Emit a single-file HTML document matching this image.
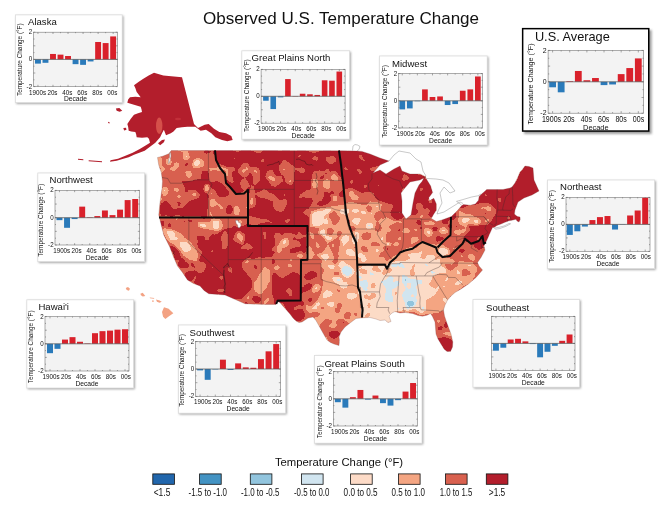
<!DOCTYPE html>
<html lang="en"><head><meta charset="utf-8"><title>Observed U.S. Temperature Change</title>
<style>html,body{margin:0;padding:0;background:#fff}svg{display:block}text{font-family:"Liberation Sans",Arial,sans-serif;fill:#111}</style></head><body>
<svg width="660" height="510" viewBox="0 0 660 510">
<defs>
<clipPath id="us"><path d="M171.25 150.5 L168.75 153.75 L162.5 156.25 L157.5 157.5 L158.75 165 L161.25 172.5 L162.5 181.25 L162 188.75 L160 202.5 L158.75 215 L159.5 218 L161.25 225 L163.75 235 L170 247.5 L173.75 257.5 L177.5 266 L182.5 272.5 L187.5 280 L193.5 283.5 L200 286 L204 290.5 L208.75 293.75 L225 295 L245 303.75 L265 304.5 L276 304.5 L276 301 L280 302.5 L282 305 L286 309.5 L290 314 L293 318 L296 321 L299 322.5 L302 322 L305 320 L308 318 L313 317 L316 320.5 L318 324 L320.5 328.5 L323 333 L325 336.5 L327 340 L330.5 342.5 L334 344 L339 345.6 L339.4 340 L339 337 L341 332 L345 327 L350 323 L356 318.5 L362 317.8 L370 317.5 L376 319 L380 320.5 L385 320 L388 322.5 L391 321.5 L389 316 L392 313 L395 311.5 L400 313 L405 312.5 L412.5 313.5 L418 315.5 L422.5 316.2 L427 315.2 L430.5 313.5 L432.5 316.5 L435 322 L435.5 328 L436 334 L438 339 L441 344 L444 349 L447 351.5 L450.5 351.5 L452.5 347 L452.8 342 L451 334 L448.75 328 L446.5 322 L444.5 316 L443.5 310 L445 305 L447.5 300 L451 296 L455 292.5 L461 289 L468.75 283.75 L476 277.5 L482.5 270 L479 266 L477.5 262.5 L481 257.5 L485 250 L484 246 L487.5 238.75 L490 233 L492.5 227.5 L494 227.4 L497 225.5 L501 224 L505 222.3 L509 220.8 L513 220 L516 219.2 L517 221 L519 222 L520.2 219.5 L520 217 L517.5 216.5 L516 215.5 L514.4 214 L515 210 L518 202 L524 198 L532 195 L539 191 L534 180 L533 168 L529 166.5 L525 166 L522 170 L520 172 L517.5 178 L515 183 L512 187 L510 188 L503 189.5 L497.4 189.5 L486.7 189.5 L484 192 L481.6 193.9 L479.1 196.4 L478.5 200.2 L475.3 204 L470.3 205.2 L463.4 204.6 L461.5 205.8 L457.7 210.3 L451.4 216.5 L442.6 219.7 L436.4 221.6 L431.3 218.4 L433.8 214 L436.4 210.3 L436.4 204 L433.8 198.3 L429.4 200.8 L428.8 197.7 L432.6 192.6 L430.7 186 L427 180 L425 176 L422 181.5 L419 185 L415 193 L413 203 L411 215 L406 219 L402 213 L402 201 L401 193 L404 189 L410 182 L420 180 L426 177 L420 174 L410 174 L402 171 L400 166 L394 169 L386 174 L380 170 L373 173 L380 165 L389 161 L380 158 L370 154 L362 151.4 L357 151 L340 150.7Z"/></clipPath>
<clipPath id="ak"><path d="M154 72.8 L163.33 75.47 L182 77.33 L194 124 L198 128 L204.67 124.8 L208.67 124 L214 128.8 L219.33 132 L226 133.33 L231.33 136 L232.67 140 L227.33 141.33 L222 140 L215.33 137.33 L211.33 133.33 L206 129.87 L200.67 130.67 L195.33 126.67 L187.33 126.67 L182 127.2 L176.67 128 L173.47 131.47 L170.8 133.33 L166 135.2 L163.87 129.87 L162 133.33 L160.13 137.33 L155.33 142.67 L150 146.67 L144.67 150.67 L139.33 152.8 L134 154.67 L128.67 157.33 L123.33 158.67 L116.67 160.8 L110 161.87 L110.53 160.27 L118 158.67 L126 155.47 L132.67 152.8 L139.33 149.33 L146 145.33 L150 142.67 L148.93 138.67 L147.33 137.33 L142 137.87 L136.67 137.33 L136.13 134.13 L135.33 132 L131.33 131.47 L128.67 130.67 L128.13 126.67 L127.33 124 L130.8 118.67 L134 114.67 L138 113.33 L142 112 L141.47 109.33 L140.67 106.67 L134 104.8 L127.33 102.67 L128.13 99.47 L130 97.33 L135.33 96.8 L140.67 97.33 L138.8 94.67 L136.67 92 L135.33 88 L134 85.33 L138.8 81.87 L143.33 78.67 L148.67 75.47Z"/></clipPath>
<filter id="q" filterUnits="userSpaceOnUse" x="0" y="0" width="660" height="510" color-interpolation-filters="sRGB">
<feGaussianBlur in="SourceGraphic" stdDeviation="1.1" result="b"/>
<feTurbulence type="fractalNoise" baseFrequency="0.115" numOctaves="1" seed="7" result="t"/>
<feColorMatrix in="t" type="matrix" values="1 0 0 0 0 1 0 0 0 0 1 0 0 0 0 0 0 0 0 1" result="tg"/>
<feComposite in="b" in2="tg" operator="arithmetic" k1="0" k2="1" k3="0.34" k4="-0.17" result="s"/>
<feComponentTransfer in="s"><feFuncR type="discrete" tableValues="0.13 0.26 0.57 0.82 0.99 0.96 0.85 0.7"/><feFuncG type="discrete" tableValues="0.4 0.58 0.77 0.9 0.86 0.65 0.38 0.12"/><feFuncB type="discrete" tableValues="0.67 0.76 0.87 0.94 0.78 0.51 0.31 0.17"/></feComponentTransfer>
</filter>
<filter id="sh" x="-10%" y="-10%" width="125%" height="125%"><feGaussianBlur stdDeviation="0.9"/></filter>
</defs>
<rect width="660" height="510" fill="#fff"/>
<text x="341" y="23.8" font-size="17.05" text-anchor="middle">Observed U.S. Temperature Change</text>
<g clip-path="url(#us)"><g filter="url(#q)"><rect x="0" y="0" width="660" height="510" fill="#cfcfcf"/>
<polygon points="214,150 340,151 373,151 389,161 417,171 417,185 403,211 397,213 393,205 385,203 379,203 373,193 355,190 344,188 341,177 337,173 325,171 313,171 311,185 313,197 311,207 309,226 248,226 248,190 236,194 226,183 220,168 216,160" fill="#efefef"/>
<polygon points="394,168 400,165 410,173 427,176 422,182 410,184 404,191 400,197 394,192" fill="#efefef"/>
<polygon points="410,216 412,200 418,186 425,175 433,190 438,205 435,217 426,214 419,211" fill="#efefef"/>
<polygon points="178,238 188,233 200,236 215,236 222,229 235,226 248,226 309,226 309,233 300,236 290,234 280,240 276,254 262,258 245,259 243,270 251,275 255,290 250,304 225,296 208,294 200,287 187,281 178,268 174,258 183,262 192,268 200,268 198,258 190,250 182,246" fill="#efefef"/>
<polygon points="272,272 282,268 300,270 301,300 304,302 305,318 298,322 290,316 284,306 276,305 276,300 272,290" fill="#efefef"/>
<polygon points="483,190 499,188 511,186 524,165 536,167 541,192 521,224 499,229 491,246 481,246 478.6,239 480.6,233 483,229 489,221 494,215 495,209 491,203 479,202 465,205 457,211 458,205 469,199" fill="#efefef"/>
<polygon points="441,218 457,210 455.4,217 457.4,225 445,227.4" fill="#efefef"/>
<polygon points="311,211 325,207 343,205 351,203 379,205 383,213 381,225 385,235 392,240 400,243 410,240 420,236 430,238 440,240 445,250 455,255 465,262 478,266 476,277 461,289 447.5,300 444,312 445,320 440,325 436,316 420,314 395,311 362,317.5 352,321 342,330 335,337 325,332 318,325 312,318 306,305 303,290 303,270 306,260 309,245 309,226" fill="#afafaf"/>
<polygon points="357,266 385,266 392,262 405,260 420,259 432,259 440,263 446,270 442,285 436,298 432,311 405,310 396,311 392,323 376,321 362,319 360,300 358,287" fill="#8f8f8f"/>
<polygon points="432,311 440,305 446,303 452,296 455,292 447,300 445,312 453,340 452,352 444,350 436,335 434,320" fill="#cfcfcf"/>
<polygon points="441,338 446,335 450,338 453,344 453,350 449,353 445,351 442,345" fill="#efefef"/>
<ellipse cx="440" cy="328" rx="2" ry="3" fill="#efefef"/>
<ellipse cx="447" cy="326" rx="1.5" ry="2.5" fill="#efefef"/>
<polygon points="319,324 328,320 338,319 348,322 346,328 341,336 340,346 331,344 324,336" fill="#cfcfcf"/>
<ellipse cx="334.5" cy="334.5" rx="5" ry="4" fill="#efefef"/>
<polygon points="177.73,178.64 186.82,181.06 195.91,179.09 201.97,174.55 208.03,167.73 209.24,179.09 211.82,182.12 211.36,187.42 207.27,184.7 203.79,186.21 205.3,190.45 208.33,195.76 207.73,205.61 207.73,216.21 174.7,216.21 174.7,211.67 181.52,208.94 186.06,204.09 191.36,200.3 196.67,198.03 200.45,195.76 197.42,193.18 191.36,190.45 186.82,186.21 183.03,182.88" fill="#efefef"/>
<polygon points="159.55,202.58 165.61,201.06 171.67,205.61 174.7,211.67 174.7,216.21 159.55,216.21" fill="#efefef"/>
<ellipse cx="220.15" cy="188.64" rx="11.82" ry="5.45" fill="#efefef" transform="rotate(38 220.15 188.64)"/>
<ellipse cx="229.24" cy="210.45" rx="3.94" ry="3.03" fill="#efefef"/>
<polygon points="218.64,164.39 226.21,167.42 231.06,173.79 229.55,182.12 225,176.06 220.45,170" fill="#cfcfcf"/>
<ellipse cx="159.55" cy="161.97" rx="2.42" ry="4.85" fill="#afafaf"/>
<ellipse cx="168.64" cy="161.97" rx="3.33" ry="3.33" fill="#afafaf"/>
<ellipse cx="186.06" cy="157.12" rx="3.03" ry="3.33" fill="#afafaf"/>
<ellipse cx="199.24" cy="163.18" rx="6.36" ry="5.45" fill="#afafaf"/>
<ellipse cx="189.55" cy="173.79" rx="2.58" ry="2.58" fill="#afafaf"/>
<ellipse cx="206.52" cy="187.73" rx="2.73" ry="3.94" fill="#afafaf"/>
<ellipse cx="164.85" cy="191.21" rx="3.03" ry="5.76" fill="#afafaf"/>
<ellipse cx="178.48" cy="197.27" rx="1.97" ry="2.42" fill="#afafaf"/>
<ellipse cx="175.45" cy="189.7" rx="1.67" ry="1.67" fill="#afafaf"/>
<ellipse cx="212.58" cy="202.88" rx="2.27" ry="3.94" fill="#afafaf"/>
<ellipse cx="211.82" cy="193.48" rx="1.67" ry="1.67" fill="#afafaf"/>
<ellipse cx="236.82" cy="210.45" rx="3.03" ry="5.45" fill="#afafaf"/>
<ellipse cx="226.21" cy="172.58" rx="3.03" ry="4.85" fill="#afafaf" transform="rotate(-15 226.21 172.58)"/>
<ellipse cx="176.21" cy="164.7" rx="2.42" ry="2.42" fill="#afafaf"/>
<ellipse cx="198.18" cy="161.97" rx="3.03" ry="2.42" fill="#8f8f8f"/>
<ellipse cx="176.21" cy="164.7" rx="1.21" ry="1.21" fill="#8f8f8f"/>
<ellipse cx="206.97" cy="187.12" rx="1.21" ry="1.82" fill="#8f8f8f"/>
<ellipse cx="164.09" cy="190.45" rx="1.21" ry="2.12" fill="#8f8f8f"/>
<polygon points="217.4,165 225.4,168.2 232.6,174.2 233.8,183.4 227,180.6 221,175" fill="#cfcfcf"/>
<ellipse cx="243.6" cy="172" rx="6" ry="8.4" fill="#cfcfcf"/>
<ellipse cx="244" cy="183" rx="4" ry="6.8" fill="#cfcfcf"/>
<ellipse cx="255.6" cy="175" rx="4.4" ry="9.2" fill="#cfcfcf"/>
<ellipse cx="270" cy="175" rx="5.2" ry="5.2" fill="#cfcfcf"/>
<ellipse cx="277" cy="182.6" rx="8" ry="6" fill="#cfcfcf"/>
<ellipse cx="284" cy="166" rx="4.8" ry="6" fill="#cfcfcf"/>
<ellipse cx="252" cy="198.6" rx="3.6" ry="10" fill="#cfcfcf"/>
<ellipse cx="267" cy="196" rx="12" ry="3.6" fill="#cfcfcf" transform="rotate(15 267 196)"/>
<ellipse cx="279" cy="206" rx="6.4" ry="5.2" fill="#cfcfcf" transform="rotate(40 279 206)"/>
<ellipse cx="253.4" cy="221" rx="6.4" ry="4.8" fill="#cfcfcf"/>
<ellipse cx="285.4" cy="203" rx="2.8" ry="3.6" fill="#cfcfcf"/>
<ellipse cx="235" cy="159" rx="2.8" ry="2.4" fill="#cfcfcf"/>
<ellipse cx="263" cy="160" rx="2.4" ry="2" fill="#cfcfcf"/>
<ellipse cx="226" cy="175" rx="2" ry="2.4" fill="#afafaf"/>
<ellipse cx="252" cy="197.4" rx="1.4" ry="4.8" fill="#afafaf"/>
<ellipse cx="243" cy="171" rx="1.6" ry="2" fill="#afafaf"/>
<polygon points="198,222 207,220.6 221,219.4 224,224 222,230 213,231 205,228.6 198,227.4" fill="#afafaf"/>
<ellipse cx="202.6" cy="225.4" rx="3.2" ry="2" fill="#8f8f8f"/>
<ellipse cx="216.6" cy="224.6" rx="4" ry="4.4" fill="#8f8f8f"/>
<ellipse cx="175" cy="233.4" rx="7.2" ry="6" fill="#afafaf"/>
<ellipse cx="182" cy="243" rx="5.2" ry="4.4" fill="#afafaf"/>
<ellipse cx="165" cy="239" rx="2.8" ry="3.2" fill="#afafaf"/>
<ellipse cx="243" cy="236" rx="2" ry="2.4" fill="#afafaf"/>
<ellipse cx="174" cy="232.2" rx="3.2" ry="2" fill="#8f8f8f"/>
<ellipse cx="181.4" cy="243.4" rx="2.8" ry="2.4" fill="#8f8f8f"/>
<ellipse cx="182" cy="221.4" rx="5.2" ry="2.6" fill="#efefef"/>
<ellipse cx="189.4" cy="221" rx="2" ry="1.6" fill="#efefef"/>
<ellipse cx="162" cy="225.4" rx="2.8" ry="5.2" fill="#efefef"/>
<ellipse cx="281" cy="239" rx="6" ry="6" fill="#cfcfcf"/>
<ellipse cx="231" cy="225" rx="2.8" ry="4" fill="#cfcfcf"/>
<ellipse cx="315" cy="159" rx="4.4" ry="2.6" fill="#cfcfcf"/>
<ellipse cx="332" cy="160" rx="3" ry="4.4" fill="#cfcfcf"/>
<ellipse cx="302" cy="171" rx="2.6" ry="2" fill="#cfcfcf"/>
<ellipse cx="327" cy="170" rx="3.2" ry="2.4" fill="#cfcfcf"/>
<ellipse cx="289" cy="176" rx="5.2" ry="7.6" fill="#cfcfcf"/>
<ellipse cx="308" cy="194" rx="4" ry="4" fill="#cfcfcf"/>
<ellipse cx="378" cy="186" rx="2.4" ry="2.4" fill="#cfcfcf"/>
<ellipse cx="394" cy="206" rx="3.2" ry="2.8" fill="#cfcfcf"/>
<ellipse cx="315" cy="183.4" rx="2.8" ry="4.4" fill="#afafaf"/>
<ellipse cx="326.6" cy="185" rx="4" ry="5.2" fill="#afafaf"/>
<ellipse cx="336" cy="179" rx="2.4" ry="2.4" fill="#afafaf"/>
<ellipse cx="358" cy="197.4" rx="7.2" ry="2.8" fill="#afafaf"/>
<ellipse cx="335" cy="197.4" rx="2.8" ry="2.4" fill="#afafaf"/>
<ellipse cx="351" cy="195" rx="2.4" ry="2" fill="#afafaf"/>
<ellipse cx="327" cy="200" rx="5.2" ry="2.8" fill="#efefef"/>
<ellipse cx="322" cy="178" rx="2.4" ry="2" fill="#efefef"/>
<ellipse cx="333" cy="192" rx="2.8" ry="2" fill="#efefef"/>
<ellipse cx="303" cy="214" rx="4" ry="2.4" fill="#efefef"/>
<ellipse cx="320" cy="203" rx="2" ry="1.6" fill="#efefef"/>
<polygon points="393,205 403,203 405,213 401,221 396,223 392,215" fill="#efefef"/>
<ellipse cx="317" cy="219.4" rx="6" ry="8" fill="#8f8f8f"/>
<ellipse cx="361" cy="222.2" rx="10.4" ry="3.4" fill="#8f8f8f" transform="rotate(10 361 222.2)"/>
<ellipse cx="371" cy="212.6" rx="3.2" ry="2.4" fill="#8f8f8f"/>
<ellipse cx="328" cy="211" rx="4" ry="2.4" fill="#8f8f8f"/>
<ellipse cx="345" cy="211" rx="3.6" ry="2.4" fill="#8f8f8f"/>
<ellipse cx="355" cy="211" rx="2.8" ry="2" fill="#8f8f8f"/>
<ellipse cx="323" cy="233" rx="4.8" ry="3.2" fill="#8f8f8f"/>
<ellipse cx="345" cy="239" rx="4.4" ry="3.6" fill="#8f8f8f"/>
<ellipse cx="369" cy="235" rx="6" ry="4" fill="#8f8f8f"/>
<ellipse cx="357" cy="233" rx="3.2" ry="2.4" fill="#8f8f8f"/>
<ellipse cx="334" cy="218" rx="5.6" ry="7.6" fill="#cfcfcf"/>
<ellipse cx="369" cy="209.4" rx="2.8" ry="4" fill="#cfcfcf"/>
<ellipse cx="377.4" cy="215.4" rx="4" ry="4" fill="#cfcfcf"/>
<ellipse cx="385.4" cy="213.4" rx="3.2" ry="4" fill="#cfcfcf"/>
<ellipse cx="339" cy="233" rx="2.8" ry="2.8" fill="#cfcfcf"/>
<ellipse cx="332" cy="243" rx="3.6" ry="2.8" fill="#cfcfcf"/>
<ellipse cx="309" cy="239" rx="3.2" ry="4" fill="#cfcfcf"/>
<ellipse cx="352" cy="229" rx="2.4" ry="2" fill="#cfcfcf"/>
<ellipse cx="394" cy="229" rx="4" ry="4.8" fill="#cfcfcf"/>
<ellipse cx="410" cy="225" rx="4.4" ry="4.4" fill="#cfcfcf"/>
<ellipse cx="407" cy="239" rx="4" ry="4.4" fill="#cfcfcf"/>
<ellipse cx="385" cy="225" rx="2.4" ry="2.8" fill="#cfcfcf"/>
<ellipse cx="397" cy="225" rx="2" ry="2.4" fill="#efefef"/>
<ellipse cx="413" cy="233" rx="2" ry="2" fill="#efefef"/>
<ellipse cx="409" cy="214" rx="2.4" ry="2.4" fill="#efefef"/>
<polygon points="457,211.4 465,205.4 479,202.4 491,203.4 495,209.4 494,215.4 489,221.4 483,229.4 475,233.4 465,235.4 455,233.4 451,225.4 455,217.4" fill="#cfcfcf"/>
<ellipse cx="465.4" cy="219.4" rx="8.4" ry="6" fill="#afafaf"/>
<ellipse cx="475" cy="225.4" rx="4.8" ry="8" fill="#afafaf" transform="rotate(20 475 225.4)"/>
<ellipse cx="488" cy="209" rx="3" ry="2.4" fill="#afafaf"/>
<ellipse cx="459.4" cy="231.4" rx="6" ry="2.8" fill="#afafaf"/>
<ellipse cx="427" cy="225.4" rx="8" ry="6" fill="#afafaf"/>
<ellipse cx="437" cy="235" rx="6.8" ry="5.2" fill="#afafaf"/>
<ellipse cx="420" cy="233" rx="3.6" ry="6" fill="#afafaf"/>
<ellipse cx="466" cy="220" rx="4" ry="2.4" fill="#8f8f8f"/>
<ellipse cx="488.6" cy="209" rx="1.4" ry="1.2" fill="#8f8f8f"/>
<ellipse cx="429" cy="227" rx="3.6" ry="2.4" fill="#8f8f8f"/>
<ellipse cx="435" cy="236" rx="2.8" ry="2" fill="#8f8f8f"/>
<ellipse cx="419.4" cy="207" rx="4.4" ry="4.4" fill="#cfcfcf"/>
<ellipse cx="427" cy="211" rx="2.8" ry="2.8" fill="#cfcfcf"/>
<ellipse cx="449" cy="221.4" rx="4.8" ry="4" fill="#efefef"/>
<ellipse cx="419" cy="222" rx="2.8" ry="2.8" fill="#efefef"/>
<ellipse cx="443" cy="233" rx="2" ry="2" fill="#efefef"/>
<polygon points="161,227 201.4,227 195.4,235 198.2,245 202.2,253 198.2,261 205,267 201,273.4 187,269.4 181,275.4 177,267 173,257 167,245 163,235" fill="#cfcfcf"/>
<polygon points="163,227.8 177.4,231 187,238.6 195.4,247 200.2,257 195.4,262.2 186.2,257.4 177.8,249.4 169.8,241 163.8,235" fill="#afafaf"/>
<ellipse cx="185.4" cy="246.6" rx="6" ry="4.4" fill="#8f8f8f" transform="rotate(40 185.4 246.6)"/>
<ellipse cx="171.4" cy="233" rx="4" ry="2.8" fill="#8f8f8f" transform="rotate(30 171.4 233)"/>
<ellipse cx="185.6" cy="247.6" rx="1.6" ry="1.2" fill="#707070"/>
<polygon points="172,247 178,249.4 182.6,258.6 188.6,267 185.4,277.4 180,270.4 176,263.4 173.6,255" fill="#efefef"/>
<ellipse cx="184" cy="269.4" rx="4.4" ry="2.4" fill="#cfcfcf"/>
<ellipse cx="203" cy="268" rx="2.4" ry="4" fill="#cfcfcf"/>
<ellipse cx="225" cy="239" rx="3.2" ry="8.4" fill="#cfcfcf"/>
<ellipse cx="239.4" cy="238" rx="5.2" ry="6.4" fill="#cfcfcf"/>
<ellipse cx="241.4" cy="239.4" rx="2.4" ry="4" fill="#afafaf"/>
<polygon points="243,261 259,259 275,260 278.2,267 273,273.4 269,279.4 267,293.4 263,302.2 249,303.4 243,299.4 249,293.4 253,285.4 251,277.4 243,270.2" fill="#cfcfcf"/>
<polygon points="273,266.6 277.4,269.8 270.4,277 267.4,287 261.4,294.4 255,291.4 253.8,282.2 259,276 266,271" fill="#afafaf"/>
<ellipse cx="259" cy="290.6" rx="1.4" ry="1.8" fill="#8f8f8f"/>
<ellipse cx="272" cy="270" rx="2" ry="1.6" fill="#8f8f8f"/>
<ellipse cx="256" cy="299.4" rx="4.8" ry="3.6" fill="#efefef"/>
<ellipse cx="283" cy="245.4" rx="6" ry="11.2" fill="#cfcfcf"/>
<ellipse cx="283" cy="243.4" rx="2.8" ry="7.2" fill="#afafaf"/>
<ellipse cx="283" cy="242" rx="1.2" ry="2.8" fill="#8f8f8f"/>
<polygon points="274.2,259 287,259 287,275.4 283,274.6 277,275.8 274.2,272" fill="#cfcfcf"/>
<polygon points="274,234.4 282,231 294,234 304,240 306.4,258.4 274,258.4 278,250 275,242" fill="#cfcfcf"/>
<ellipse cx="285" cy="243" rx="5.2" ry="4" fill="#afafaf"/>
<ellipse cx="279" cy="250" rx="2.4" ry="4" fill="#afafaf"/>
<ellipse cx="285" cy="242" rx="1.6" ry="1.6" fill="#8f8f8f"/>
<ellipse cx="297" cy="250" rx="4.4" ry="3.6" fill="#efefef"/>
<ellipse cx="304" cy="246" rx="2.8" ry="8" fill="#efefef"/>
<polygon points="270,259 300,259 300,273 292,272.4 284,275 276,272.4 270,274" fill="#cfcfcf"/>
<ellipse cx="276" cy="268" rx="3.6" ry="2.4" fill="#afafaf"/>
<ellipse cx="290" cy="266" rx="2.8" ry="2" fill="#afafaf"/>
<polygon points="300.4,259 322.4,259 322.4,286 318,300 310,308 305,300 300.4,300" fill="#cfcfcf"/>
<ellipse cx="316" cy="288" rx="4.4" ry="3.2" fill="#afafaf"/>
<ellipse cx="310" cy="275" rx="7.6" ry="4.4" fill="#efefef"/>
<ellipse cx="308" cy="287" rx="4.8" ry="3.4" fill="#efefef"/>
<ellipse cx="318" cy="244" rx="8" ry="10" fill="#cfcfcf"/>
<ellipse cx="336" cy="246" rx="6" ry="6.4" fill="#cfcfcf"/>
<ellipse cx="330" cy="232" rx="4.8" ry="4" fill="#cfcfcf"/>
<ellipse cx="315" cy="230" rx="4" ry="3.2" fill="#cfcfcf"/>
<ellipse cx="336" cy="262" rx="2.8" ry="2.4" fill="#cfcfcf"/>
<ellipse cx="335" cy="274" rx="2.4" ry="2.8" fill="#cfcfcf"/>
<ellipse cx="338" cy="308" rx="4" ry="5.2" fill="#cfcfcf"/>
<ellipse cx="330" cy="290" rx="2" ry="2" fill="#cfcfcf"/>
<ellipse cx="346" cy="290.4" rx="1.6" ry="1.6" fill="#cfcfcf"/>
<ellipse cx="322.4" cy="308" rx="2" ry="2" fill="#cfcfcf"/>
<ellipse cx="316" cy="314" rx="4.4" ry="3.6" fill="#cfcfcf"/>
<ellipse cx="351" cy="315.6" rx="6.8" ry="4.8" fill="#cfcfcf"/>
<ellipse cx="333" cy="246" rx="2" ry="2.4" fill="#afafaf"/>
<ellipse cx="328" cy="238" rx="4" ry="2.8" fill="#8f8f8f"/>
<ellipse cx="350" cy="252" rx="4.8" ry="3.6" fill="#8f8f8f"/>
<ellipse cx="354" cy="242" rx="2.8" ry="4" fill="#8f8f8f"/>
<ellipse cx="324" cy="256" rx="3.6" ry="2" fill="#8f8f8f"/>
<ellipse cx="330" cy="266" rx="4" ry="2.8" fill="#8f8f8f"/>
<ellipse cx="338" cy="280" rx="3.6" ry="2.4" fill="#8f8f8f"/>
<ellipse cx="328" cy="294.4" rx="4.4" ry="3.2" fill="#8f8f8f"/>
<ellipse cx="318" cy="304" rx="2.8" ry="2" fill="#8f8f8f"/>
<ellipse cx="330" cy="304" rx="3.2" ry="2.4" fill="#8f8f8f"/>
<ellipse cx="352" cy="296" rx="6" ry="2.8" fill="#8f8f8f"/>
<ellipse cx="344" cy="286" rx="4" ry="2" fill="#8f8f8f"/>
<ellipse cx="347.2" cy="271.2" rx="6" ry="6" fill="#707070"/>
<ellipse cx="340" cy="279.2" rx="2" ry="1.6" fill="#707070"/>
<ellipse cx="364" cy="272" rx="4" ry="2.8" fill="#afafaf"/>
<ellipse cx="376" cy="270" rx="5.2" ry="2.4" fill="#afafaf"/>
<ellipse cx="370" cy="296" rx="6" ry="4" fill="#afafaf"/>
<ellipse cx="388" cy="270" rx="4" ry="2.4" fill="#afafaf"/>
<ellipse cx="374" cy="286" rx="2.4" ry="2.8" fill="#afafaf"/>
<ellipse cx="366" cy="285.2" rx="4" ry="6" fill="#707070"/>
<ellipse cx="392" cy="284.4" rx="6" ry="8.4" fill="#707070"/>
<ellipse cx="387" cy="294" rx="2.4" ry="2.8" fill="#707070"/>
<ellipse cx="370" cy="240" rx="6" ry="3.6" fill="#cfcfcf"/>
<ellipse cx="362" cy="232" rx="3.2" ry="4" fill="#cfcfcf"/>
<ellipse cx="382" cy="248" rx="4" ry="3.2" fill="#cfcfcf"/>
<ellipse cx="390" cy="232" rx="4.4" ry="5.2" fill="#cfcfcf"/>
<ellipse cx="398" cy="250" rx="3.2" ry="3.2" fill="#cfcfcf"/>
<ellipse cx="360" cy="254" rx="2.4" ry="2.8" fill="#cfcfcf"/>
<polygon points="358,220 402,220 402,260 394,263 387,264.4 358,264.4" fill="#afafaf"/>
<polygon points="385,225 451,225 451,233 443,239 435,245 421,243 409,249 397,253 385,263" fill="#cfcfcf"/>
<ellipse cx="391" cy="233" rx="4.4" ry="3.6" fill="#afafaf"/>
<ellipse cx="415" cy="239" rx="4" ry="2.8" fill="#afafaf"/>
<ellipse cx="405" cy="231" rx="3.6" ry="2.4" fill="#afafaf"/>
<ellipse cx="428" cy="233" rx="4" ry="3.2" fill="#afafaf"/>
<ellipse cx="443" cy="231" rx="3.6" ry="2.8" fill="#afafaf"/>
<ellipse cx="397" cy="245" rx="3.2" ry="2.4" fill="#afafaf"/>
<ellipse cx="435" cy="229" rx="2.8" ry="2.4" fill="#efefef"/>
<ellipse cx="421" cy="229" rx="2" ry="2" fill="#efefef"/>
<ellipse cx="449" cy="227" rx="3.2" ry="2" fill="#efefef"/>
<polygon points="469,225 497,225 489,237 485,249 479,251 473,245 465,239" fill="#efefef"/>
<polygon points="442,245 465,240 479,252 481,263 465,262 453,259 445,257" fill="#cfcfcf"/>
<ellipse cx="462" cy="251" rx="2.8" ry="2.8" fill="#efefef"/>
<ellipse cx="455" cy="249" rx="3.2" ry="2" fill="#afafaf"/>
<ellipse cx="471" cy="257" rx="3.6" ry="2.4" fill="#afafaf"/>
<ellipse cx="444.2" cy="252" rx="5.2" ry="4" fill="#8f8f8f"/>
<ellipse cx="413" cy="255" rx="6" ry="2.4" fill="#8f8f8f"/>
<ellipse cx="430.2" cy="257" rx="4.8" ry="2.6" fill="#707070"/>
<ellipse cx="424" cy="274" rx="2" ry="1.6" fill="#707070"/>
<ellipse cx="451.4" cy="266.2" rx="6.4" ry="4" fill="#cfcfcf"/>
<ellipse cx="443" cy="279" rx="3.2" ry="2.8" fill="#cfcfcf"/>
<ellipse cx="465" cy="273" rx="4.4" ry="2.8" fill="#cfcfcf"/>
<ellipse cx="453" cy="283" rx="2.8" ry="3.2" fill="#cfcfcf"/>
<ellipse cx="441" cy="293" rx="2.8" ry="2.8" fill="#cfcfcf"/>
<ellipse cx="433" cy="303" rx="4" ry="2.8" fill="#cfcfcf"/>
<polygon points="432,275 451,273 465,277 459,289 449,297 445,309 437,313 425,311 427,301 435,295 432,285" fill="#afafaf"/>
<ellipse cx="459" cy="273" rx="2.4" ry="1.6" fill="#8f8f8f"/>
<ellipse cx="445" cy="287" rx="2.4" ry="2" fill="#8f8f8f"/>
<polygon points="402.6,276.6 415,278.6 417.4,291 415.4,305.4 407,309.4 402.6,301.4 405,289" fill="#707070"/>
<ellipse cx="410" cy="304" rx="3.8" ry="3" fill="#505050"/>
<ellipse cx="392" cy="283" rx="7.2" ry="4.8" fill="#707070"/>
<ellipse cx="389" cy="295.4" rx="4" ry="6" fill="#707070"/>
<ellipse cx="409" cy="285" rx="2" ry="2.8" fill="#afafaf"/>
<ellipse cx="397" cy="305" rx="2.8" ry="2" fill="#afafaf"/>
<polygon points="437.4,313 445,310 449,315 451,327 439,327" fill="#cfcfcf"/>
<ellipse cx="366" cy="236" rx="5.2" ry="4" fill="#cfcfcf"/>
<ellipse cx="375" cy="245" rx="4.8" ry="3.6" fill="#cfcfcf"/>
<ellipse cx="390" cy="232" rx="5.2" ry="5.6" fill="#cfcfcf"/>
<ellipse cx="398" cy="226" rx="4.4" ry="4" fill="#cfcfcf"/>
<ellipse cx="382" cy="255" rx="4.4" ry="3.2" fill="#cfcfcf"/>
<ellipse cx="364" cy="250" rx="2.8" ry="3.2" fill="#cfcfcf"/>
<ellipse cx="398" cy="250" rx="3.6" ry="3.6" fill="#cfcfcf"/>
<ellipse cx="379" cy="228" rx="3.2" ry="2.8" fill="#cfcfcf"/>
<ellipse cx="370" cy="226" rx="3.6" ry="2.4" fill="#8f8f8f"/>
<ellipse cx="388" cy="244" rx="2.8" ry="2" fill="#8f8f8f"/>
<ellipse cx="364" cy="260" rx="3.2" ry="2" fill="#8f8f8f"/>
</g></g>
<path d="M235.6 220.6 L237.6 220.2 L238.6 222.4 L240.6 223.2 L241 225.6 L239.6 227.8 L238 227.6 L237.6 225 L236.2 223.4Z" fill="#fff" stroke="#777" stroke-width="0.4"/>
<path d="M169.6 153 L170.6 152.6 L171 156 L170.2 160 L169.2 163 L168.2 163.4 L168.6 160 L169.6 157Z" fill="#fff" stroke="#777" stroke-width="0.4"/>
<g fill="none" stroke="#3a2a2a" stroke-width="0.45" stroke-opacity="0.8" clip-path="url(#us)">
<path d="M161.74 177.51 L167.69 178.47 L170.33 183.22 L180.91 183.22 L193.47 180.56 L195.45 179.9 L209.2 179.9"/>
<path d="M208.41 150.51 L208.41 176.07 L209.2 179.9 L211.98 184.64 L209.66 190.27 L207.35 194.92 L208.47 200.45 L208.47 216.7"/>
<path d="M188.84 216.7 L188.84 242.81 L224.34 275.95 L224.53 282.38 L225.53 287.95 L223.74 294.11"/>
<path d="M228.24 216.7 L228.24 266.19 L223.87 267.42 L224.34 275.95"/>
<path d="M228.24 259.6 L356.6 259.6"/>
<path d="M261.22 225.53 L261.22 304.96"/>
<path d="M248 216.7 L248 225.53 L261.22 225.53"/>
<path d="M248 189.33 L294.27 189.33"/>
<path d="M248 193.99 L248 189.33"/>
<path d="M294.27 150.51 L294.27 225.53"/>
<path d="M294.27 180.47 L343.78 180.47"/>
<path d="M294.27 207.73 L330.96 207.73 L334.92 209.53 L342.85 211.33 L344.51 212.23"/>
<path d="M294.27 225.53 L307.49 225.53 L307.49 234.23"/>
<path d="M307.49 234.23 L352.11 234.23"/>
<path d="M307.49 234.23 L307.49 259.6"/>
<path d="M301.21 259.6 L301.21 263.72 L321.04 263.72 L321.04 279.49 L326.33 281.58 L333.6 283.18 L339.55 285.57 L345.5 285.97 L352.11 284.93 L357.53 286.84"/>
<path d="M300.95 263.72 L300.81 299.75 L277.28 299.75"/>
<path d="M356.6 234.23 L356.6 263.72"/>
<path d="M356.6 263.72 L357.86 272.71 L357.53 286.84 L360.44 287.56 L360.44 307.51 L363.68 307.51 L362.68 312.89 L361.76 317.48"/>
<path d="M356.6 263.72 L386.15 263.72"/>
<path d="M360.44 291.91 L379.41 291.91"/>
<path d="M379.41 291.91 L380.2 296.63 L377.23 302.87 L376.56 307.51 L388.93 307.51 L388.13 310.05 L389.78 313.66"/>
<path d="M399.04 275.95 L397.25 300.53 L397.72 312.89"/>
<path d="M416.22 275.95 L419 292.93 L420.19 297.41 L419.86 303.64 L420.19 307.51 L421.12 309.82 L438.7 310.82 L439.69 312.13 L443.66 309.67"/>
<path d="M403 307.51 L420.19 307.51"/>
<path d="M403 307.51 L404.33 312.13"/>
<path d="M385.16 275.95 L432.75 275.95"/>
<path d="M390.45 263.72 L400.03 263.72 L400.03 262.49 L428.92 262.9 L480.54 263.31"/>
<path d="M442.14 262.98 L439.36 267.01 L433.41 269.46 L426.8 272.71 L424.69 275.95"/>
<path d="M432.75 275.95 L438.04 274.33 L446.37 274.74 L447.09 275.14 L448.08 277.4 L455.42 277.56 L462.83 285.09"/>
<path d="M432.75 275.95 L436.05 281.58 L440.68 288.75 L443.99 294.27 L447.29 299.44"/>
<path d="M344.51 203.19 L379.08 203.19"/>
<path d="M344.51 212.23 L344.51 203.19 L343.78 180.47 L341.86 174.15 L342.19 165.41 L339.35 150.51"/>
<path d="M349 229.03 L375.71 229.03 L377.75 230.94"/>
<path d="M344.51 212.23 L346.82 219.37 L348.14 225.53 L349 229.03 L352.11 234.23 L354.75 236.39 L356.6 241.95"/>
<path d="M371.94 173.67 L371.94 178.94 L368.3 183.69 L368.96 190.27 L378.55 199.53 L379.08 203.19 L379.87 209.99 L382.91 212.23 L385.82 218.48 L380.2 223.78 L379.87 228.16 L377.75 230.94 L377.23 234.23 L382.51 242.81 L386.15 244.51 L385.16 249.58 L389.78 257.11 L392.76 259.6 L390.45 263.72 L389.12 267.82 L386.48 274.33 L385.16 275.95 L380.53 283.98 L379.41 291.91"/>
<path d="M382.91 212.23 L401.68 212.23"/>
<path d="M384.5 174.63 L393.09 178.94 L399.7 180.85 L401.68 186.05 L403 188.4"/>
<path d="M403.47 218.83 L403.47 239.82 L402.67 247.05 L400.36 252.1 L399.7 255.44"/>
<path d="M421.38 219.37 L421.38 241.95"/>
<path d="M403.47 218.83 L421.38 218.83 L421.38 219.37 L430.44 219.1"/>
<path d="M449.8 216.7 L454.83 216.7 L483.98 216.7 L488.27 222.37"/>
<path d="M449.8 236.65 L481.07 236.65 L482.99 235.53 L485.63 234.23 L487.94 232.5 L484.97 228.59 L485.96 225.53 L488.27 222.37 L493.56 225.53"/>
<path d="M481.07 236.65 L481.53 247.47 L485.96 247.47"/>
<path d="M456.68 236.65 L456.68 241.1 L463.82 237.68 L468.25 240.08 L469.77 241.95 L472.41 244.08 L471.09 247.89 L477.7 251.68"/>
<path d="M436.05 249.58 L440.35 255.44 L442.14 257.94 L451.26 255.44 L455.55 246.62 L460.71 244.84 L468.25 240.08"/>
<path d="M440.35 255.44 L428.92 262.9"/>
<path d="M497.2 189.24 L496.87 198.61 L497.86 202.73 L497.73 209.99 L496.21 216.26 L496.27 223.78 L494.69 224.66 L495.21 225.53"/>
<path d="M497.73 209.99 L503.15 210.17 L510.75 210.44 L513.06 208.9"/>
<path d="M496.21 216.26 L507.44 216.52 L510.22 216.52"/>
<path d="M507.44 216.52 L507.44 222.02"/>
<path d="M510.22 216.52 L511.41 221.13"/>
<path d="M509.43 189.24 L509.1 193.99 L505.79 196.77 L503.48 205.01 L502.49 209.08 L503.15 210.17"/>
<path d="M512.2 186.52 L512.73 195.84 L512.93 204.1 L514.71 207"/>
<path d="M483.98 216.7 L485.63 218.48 L488.27 222.37"/>
</g>
<path d="M171.25 150.5 L168.75 153.75 L162.5 156.25 L157.5 157.5 L158.75 165 L161.25 172.5 L162.5 181.25 L162 188.75 L160 202.5 L158.75 215 L159.5 218 L161.25 225 L163.75 235 L170 247.5 L173.75 257.5 L177.5 266 L182.5 272.5 L187.5 280 L193.5 283.5 L200 286 L204 290.5 L208.75 293.75 L225 295 L245 303.75 L265 304.5 L276 304.5 L276 301 L280 302.5 L282 305 L286 309.5 L290 314 L293 318 L296 321 L299 322.5 L302 322 L305 320 L308 318 L313 317 L316 320.5 L318 324 L320.5 328.5 L323 333 L325 336.5 L327 340 L330.5 342.5 L334 344 L339 345.6 L339.4 340 L339 337 L341 332 L345 327 L350 323 L356 318.5 L362 317.8 L370 317.5 L376 319 L380 320.5 L385 320 L388 322.5 L391 321.5 L389 316 L392 313 L395 311.5 L400 313 L405 312.5 L412.5 313.5 L418 315.5 L422.5 316.2 L427 315.2 L430.5 313.5 L432.5 316.5 L435 322 L435.5 328 L436 334 L438 339 L441 344 L444 349 L447 351.5 L450.5 351.5 L452.5 347 L452.8 342 L451 334 L448.75 328 L446.5 322 L444.5 316 L443.5 310 L445 305 L447.5 300 L451 296 L455 292.5 L461 289 L468.75 283.75 L476 277.5 L482.5 270 L479 266 L477.5 262.5 L481 257.5 L485 250 L484 246 L487.5 238.75 L490 233 L492.5 227.5 L494 227.4 L497 225.5 L501 224 L505 222.3 L509 220.8 L513 220 L516 219.2 L517 221 L519 222 L520.2 219.5 L520 217 L517.5 216.5 L516 215.5 L514.4 214 L515 210 L518 202 L524 198 L532 195 L539 191 L534 180 L533 168 L529 166.5 L525 166 L522 170 L520 172 L517.5 178 L515 183 L512 187 L510 188 L503 189.5 L497.4 189.5 L486.7 189.5 L484 192 L481.6 193.9 L479.1 196.4 L478.5 200.2 L475.3 204 L470.3 205.2 L463.4 204.6 L461.5 205.8 L457.7 210.3 L451.4 216.5 L442.6 219.7 L436.4 221.6 L431.3 218.4 L433.8 214 L436.4 210.3 L436.4 204 L433.8 198.3 L429.4 200.8 L428.8 197.7 L432.6 192.6 L430.7 186 L427 180 L425 176 L422 181.5 L419 185 L415 193 L413 203 L411 215 L406 219 L402 213 L402 201 L401 193 L404 189 L410 182 L420 180 L426 177 L420 174 L410 174 L402 171 L400 166 L394 169 L386 174 L380 170 L373 173 L380 165 L389 161 L380 158 L370 154 L362 151.4 L357 151 L340 150.7Z" fill="none" stroke="#6b3a38" stroke-width="0.4" stroke-opacity="0.6"/>
<path d="M494.5 228 L499 227.3 L504 226 L509 223.5 L510.5 223.8 L506 226.3 L500 228.5 L495.5 229.2 L494.5 228" fill="none" stroke="#777" stroke-width="0.4"/>
<path d="M352.5 150.5 L353 146 L355 144.5 L357.5 145 L360 146.5 L359 149.5 L357 151" fill="none" stroke="#777" stroke-width="0.4"/>
<path d="M389 161 L394 155 L399 151 L410 153 L416 159 L421 162 L423 171 L426 176" fill="none" stroke="#777" stroke-width="0.4"/>
<path d="M427 178.5 L436 179 L443 180 L449 183 L455 191 L450 193 L444 187 L440 193 L442 203 L438 211 L437 214" fill="none" stroke="#777" stroke-width="0.4"/>
<path d="M437 214 L444 212 L452 207 L460 202 L463 203.5" fill="none" stroke="#777" stroke-width="0.4"/>
<path d="M461.5 205 L456.5 201.4 L462.8 199.6 L471.6 197 L477.9 195.8 L481 194" fill="none" stroke="#777" stroke-width="0.4"/>
<g fill="none" stroke="#1a1010" stroke-width="0.45" stroke-opacity="0.85">
<path d="M267 165.6 L270 164.6 L273 164.2 L275 163 L277.4 162.6 L278.6 161 L279.4 163.4 L280 165"/>
<path d="M296 159.4 L299 159 L302 160.6 L305 161.4 L306 164 L309 165 L312 164.6 L313 165.8"/>
<path d="M316 173 L317 177 L315.4 181 L317.4 184 L316.6 188 L318 191 L317 194.6"/>
<path d="M245 259.4 L247.4 258 L249 257 L250.6 255 L252.6 252.4"/>
<path d="M223.4 268 L224.6 266 L226.6 265 L227.4 263.4 L229.4 267 L230.6 269.4"/>
<path d="M224 270 L223.4 275 L224.6 279.4 L225.4 284 L224 287 L225 293"/>
<path d="M173 250.6 L174.2 251.8 L173.4 253.4 L174.6 255"/>
</g>
<g fill="none" stroke="#0a0a0a" stroke-width="2" stroke-linejoin="round" stroke-linecap="butt">
<path d="M159 217.6 L248 217.6"/>
<path d="M215 150.4 L216 160 L220 168 L225 174 L226 183 L230 187 L236 194 L244 193.6 L248 190 L248 226 L307.5 226 L307.5 259.8 L301 260 L300.75 300.5 L277.5 300.75 L276.2 304"/>
<path d="M339 150.5 L341 165 L343 182.5 L344.5 197.5 L346 212.5 L349 225 L352.5 235 L356 242.5 L357 257.5 L357.3 265 L358 287.5 L360 292 L361 300 L362.5 310 L362 317.5"/>
<path d="M357.3 264.8 L385 264.8 L387 268.75 L390 262.5 L396 257.5 L400 252.5 L405 250.5 L412.5 248.75 L417.5 245 L422.5 242 L430 245 L436 247.5 L437.5 252.5 L442.5 257 L450 256 L456 250 L462.5 243.75 L465 238.75 L471 243.75 L478.75 241 L482.5 236 L483.75 243.75 L486 242.5"/>
<path d="M451 217 L450.5 235 L443.75 241 L437.5 247.5"/>
</g>
<path d="M154 72.8 L163.33 75.47 L182 77.33 L194 124 L198 128 L204.67 124.8 L208.67 124 L214 128.8 L219.33 132 L226 133.33 L231.33 136 L232.67 140 L227.33 141.33 L222 140 L215.33 137.33 L211.33 133.33 L206 129.87 L200.67 130.67 L195.33 126.67 L187.33 126.67 L182 127.2 L176.67 128 L173.47 131.47 L170.8 133.33 L166 135.2 L163.87 129.87 L162 133.33 L160.13 137.33 L155.33 142.67 L150 146.67 L144.67 150.67 L139.33 152.8 L134 154.67 L128.67 157.33 L123.33 158.67 L116.67 160.8 L110 161.87 L110.53 160.27 L118 158.67 L126 155.47 L132.67 152.8 L139.33 149.33 L146 145.33 L150 142.67 L148.93 138.67 L147.33 137.33 L142 137.87 L136.67 137.33 L136.13 134.13 L135.33 132 L131.33 131.47 L128.67 130.67 L128.13 126.67 L127.33 124 L130.8 118.67 L134 114.67 L138 113.33 L142 112 L141.47 109.33 L140.67 106.67 L134 104.8 L127.33 102.67 L128.13 99.47 L130 97.33 L135.33 96.8 L140.67 97.33 L138.8 94.67 L136.67 92 L135.33 88 L134 85.33 L138.8 81.87 L143.33 78.67 L148.67 75.47Z" fill="#b31e2c"/>
<path d="M158 143.2 L162 140 L164.93 139.47 L163.87 142.13 L160.13 145.33Z" fill="#b31e2c"/>
<path d="M115.87 108.53 L119.33 108 L122.27 110.67 L119.6 111.73 L116.67 110.67Z" fill="#b31e2c"/>
<path d="M123.33 128 L126 127.73 L126.53 129.87 L124.13 130.4Z" fill="#b31e2c"/>
<path d="M88.67 160.27 L95.33 160.8 L102 161.33 L102 162.13 L95.33 161.87 L88.67 161.33Z" fill="#b31e2c"/>
<path d="M78 158.67 L83.33 159.2 L83.33 160.27 L78 159.73Z" fill="#b31e2c"/>
<path d="M108.13 121.87 L109.73 122.4 L109.47 123.47 L108.13 122.93Z" fill="#b31e2c"/>
<g clip-path="url(#ak)"><ellipse cx="159.2" cy="125.7" rx="3.2" ry="8.2" fill="#d5504a"/><ellipse cx="178" cy="119" rx="3" ry="1.2" fill="#c2303a"/></g>
<path d="M164 307.33 L168.67 308.67 L173.33 313.33 L169.33 316 L165.33 319.07 L163.07 316.67 L162 312Z" fill="#f3a283"/>
<path d="M156 299.6 L159.6 300.4 L161.73 301.73 L159.6 302.8 L156.93 301.73Z" fill="#f3a283"/>
<path d="M149.73 297.47 L154.27 298 L154 298.8 L150 298.27Z" fill="#f3a283"/>
<path d="M152 300.4 L153.73 300.4 L153.73 301.73 L152.13 301.73Z" fill="#f3a283"/>
<path d="M140.4 293.73 L142.67 292.67 L145.33 296 L142.67 296.4 L140.93 295.33Z" fill="#f3a283"/>
<path d="M125.73 288 L128 287.07 L130 288.67 L128.93 290.67 L126.67 290Z" fill="#f3a283"/>
<rect x="16.3" y="15.8" width="107.1" height="88" fill="#777" filter="url(#sh)" opacity="0.7"/>
<rect x="15.4" y="14.9" width="106.8" height="87.7" fill="#fff" stroke="#dcdcdc" stroke-width="0.8"/>
<text x="28" y="24.5" font-size="9.58">Alaska</text>
<rect x="33.5" y="32.2" width="84" height="54.4" fill="#f3f3f3" stroke="#777" stroke-width="0.6"/>
<path d="M33.5 32.2h1.8M117.5 32.2h-1.8M33.5 39h1M117.5 39h-1M33.5 45.8h1.8M117.5 45.8h-1.8M33.5 52.6h1M117.5 52.6h-1M33.5 59.4h1.8M117.5 59.4h-1.8M33.5 66.2h1M117.5 66.2h-1M33.5 73h1.8M117.5 73h-1.8M33.5 79.8h1M117.5 79.8h-1M33.5 86.6h1.8M117.5 86.6h-1.8M37.95 86.6v-1.8M37.95 32.2v1.8M45.47 86.6v-1M45.47 32.2v1M52.99 86.6v-1.8M52.99 32.2v1.8M60.51 86.6v-1M60.51 32.2v1M68.03 86.6v-1.8M68.03 32.2v1.8M75.55 86.6v-1M75.55 32.2v1M83.07 86.6v-1.8M83.07 32.2v1.8M90.59 86.6v-1M90.59 32.2v1M98.11 86.6v-1.8M98.11 32.2v1.8M105.63 86.6v-1M105.63 32.2v1M113.15 86.6v-1.8M113.15 32.2v1.8" stroke="#555" stroke-width="0.5" fill="none"/>
<rect x="35" y="59.4" width="5.9" height="4.22" fill="#2a7aba"/>
<rect x="42.52" y="59.4" width="5.9" height="3.4" fill="#2a7aba"/>
<rect x="50.04" y="53.96" width="5.9" height="5.44" fill="#d9212b"/>
<rect x="57.56" y="54.64" width="5.9" height="4.76" fill="#d9212b"/>
<rect x="65.08" y="56" width="5.9" height="3.4" fill="#d9212b"/>
<rect x="72.6" y="59.4" width="5.9" height="4.76" fill="#2a7aba"/>
<rect x="80.12" y="59.4" width="5.9" height="5.44" fill="#2a7aba"/>
<rect x="87.64" y="59.4" width="5.9" height="2.04" fill="#2a7aba"/>
<rect x="95.16" y="41.99" width="5.9" height="17.41" fill="#d9212b"/>
<rect x="102.68" y="43.08" width="5.9" height="16.32" fill="#d9212b"/>
<rect x="110.2" y="36.42" width="5.9" height="22.98" fill="#d9212b"/>
<path d="M33.5 59.4h84" stroke="#5a5a5a" stroke-width="0.75"/>
<text transform="translate(37.5 94.5) scale(0.86 1)" font-size="7.3" text-anchor="middle">1900s</text>
<text transform="translate(52.45 94.5) scale(0.86 1)" font-size="7.3" text-anchor="middle">20s</text>
<text transform="translate(67.4 94.5) scale(0.86 1)" font-size="7.3" text-anchor="middle">40s</text>
<text transform="translate(82.35 94.5) scale(0.86 1)" font-size="7.3" text-anchor="middle">60s</text>
<text transform="translate(97.3 94.5) scale(0.86 1)" font-size="7.3" text-anchor="middle">80s</text>
<text transform="translate(112.25 94.5) scale(0.86 1)" font-size="7.3" text-anchor="middle">00s</text>
<text x="75.5" y="101.1" font-size="6.7" text-anchor="middle">Decade</text>
<text transform="translate(32.1 34.1) scale(0.86 1)" font-size="7.2" text-anchor="end">2</text>
<text transform="translate(32.1 61.3) scale(0.86 1)" font-size="7.2" text-anchor="end">0</text>
<text transform="translate(32.1 88.5) scale(0.86 1)" font-size="7.2" text-anchor="end">-2</text>
<text transform="translate(21.7 59.7) rotate(-90)" font-size="6.42" text-anchor="middle">Temperature Change (°F)</text>
<rect x="242.7" y="51.7" width="108.1" height="88.7" fill="#777" filter="url(#sh)" opacity="0.7"/>
<rect x="241.8" y="50.8" width="107.8" height="88.4" fill="#fff" stroke="#dcdcdc" stroke-width="0.8"/>
<text x="251.6" y="61" font-size="9.58">Great Plains North</text>
<rect x="261.1" y="69.4" width="84" height="53.8" fill="#f3f3f3" stroke="#777" stroke-width="0.6"/>
<path d="M261.1 69.4h1.8M345.1 69.4h-1.8M261.1 76.12h1M345.1 76.12h-1M261.1 82.85h1.8M345.1 82.85h-1.8M261.1 89.58h1M345.1 89.58h-1M261.1 96.3h1.8M345.1 96.3h-1.8M261.1 103.03h1M345.1 103.03h-1M261.1 109.75h1.8M345.1 109.75h-1.8M261.1 116.47h1M345.1 116.47h-1M261.1 123.2h1.8M345.1 123.2h-1.8M265.9 123.2v-1.8M265.9 69.4v1.8M273.24 123.2v-1M273.24 69.4v1M280.58 123.2v-1.8M280.58 69.4v1.8M287.92 123.2v-1M287.92 69.4v1M295.26 123.2v-1.8M295.26 69.4v1.8M302.6 123.2v-1M302.6 69.4v1M309.94 123.2v-1.8M309.94 69.4v1.8M317.28 123.2v-1M317.28 69.4v1M324.62 123.2v-1.8M324.62 69.4v1.8M331.96 123.2v-1M331.96 69.4v1M339.3 123.2v-1.8M339.3 69.4v1.8" stroke="#555" stroke-width="0.5" fill="none"/>
<rect x="263.1" y="96.3" width="5.6" height="4.44" fill="#2a7aba"/>
<rect x="270.44" y="96.3" width="5.6" height="12.78" fill="#2a7aba"/>
<rect x="277.78" y="96.3" width="5.6" height="1.08" fill="#2a7aba"/>
<rect x="285.12" y="79.08" width="5.6" height="17.22" fill="#d9212b"/>
<rect x="292.46" y="96.03" width="5.6" height="0.3" fill="#d9212b"/>
<rect x="299.8" y="93.74" width="5.6" height="2.56" fill="#d9212b"/>
<rect x="307.14" y="94.28" width="5.6" height="2.02" fill="#d9212b"/>
<rect x="314.48" y="94.96" width="5.6" height="1.34" fill="#d9212b"/>
<rect x="321.82" y="80.29" width="5.6" height="16.01" fill="#d9212b"/>
<rect x="329.16" y="80.7" width="5.6" height="15.6" fill="#d9212b"/>
<rect x="336.5" y="71.55" width="5.6" height="24.75" fill="#d9212b"/>
<path d="M261.1 96.3h84" stroke="#5a5a5a" stroke-width="0.75"/>
<text transform="translate(266.5 131.1) scale(0.86 1)" font-size="7.3" text-anchor="middle">1900s</text>
<text transform="translate(281.45 131.1) scale(0.86 1)" font-size="7.3" text-anchor="middle">20s</text>
<text transform="translate(296.4 131.1) scale(0.86 1)" font-size="7.3" text-anchor="middle">40s</text>
<text transform="translate(311.35 131.1) scale(0.86 1)" font-size="7.3" text-anchor="middle">60s</text>
<text transform="translate(326.3 131.1) scale(0.86 1)" font-size="7.3" text-anchor="middle">80s</text>
<text transform="translate(341.25 131.1) scale(0.86 1)" font-size="7.3" text-anchor="middle">00s</text>
<text x="303.1" y="137.7" font-size="6.7" text-anchor="middle">Decade</text>
<text transform="translate(259.7 71.3) scale(0.86 1)" font-size="7.2" text-anchor="end">2</text>
<text transform="translate(259.7 98.2) scale(0.86 1)" font-size="7.2" text-anchor="end">0</text>
<text transform="translate(259.7 125.1) scale(0.86 1)" font-size="7.2" text-anchor="end">-2</text>
<text transform="translate(249.3 95.6) rotate(-90)" font-size="6.42" text-anchor="middle">Temperature Change (°F)</text>
<rect x="380.3" y="56.9" width="108.1" height="89.3" fill="#777" filter="url(#sh)" opacity="0.7"/>
<rect x="379.4" y="56" width="107.8" height="89" fill="#fff" stroke="#dcdcdc" stroke-width="0.8"/>
<text x="392" y="66.5" font-size="9.58">Midwest</text>
<rect x="398.6" y="73.6" width="84" height="54.4" fill="#f3f3f3" stroke="#777" stroke-width="0.6"/>
<path d="M398.6 73.6h1.8M482.6 73.6h-1.8M398.6 80.4h1M482.6 80.4h-1M398.6 87.2h1.8M482.6 87.2h-1.8M398.6 94h1M482.6 94h-1M398.6 100.8h1.8M482.6 100.8h-1.8M398.6 107.6h1M482.6 107.6h-1M398.6 114.4h1.8M482.6 114.4h-1.8M398.6 121.2h1M482.6 121.2h-1M398.6 128h1.8M482.6 128h-1.8M402.25 128v-1.8M402.25 73.6v1.8M409.81 128v-1M409.81 73.6v1M417.37 128v-1.8M417.37 73.6v1.8M424.93 128v-1M424.93 73.6v1M432.49 128v-1.8M432.49 73.6v1.8M440.05 128v-1M440.05 73.6v1M447.61 128v-1.8M447.61 73.6v1.8M455.17 128v-1M455.17 73.6v1M462.73 128v-1.8M462.73 73.6v1.8M470.29 128v-1M470.29 73.6v1M477.85 128v-1.8M477.85 73.6v1.8" stroke="#555" stroke-width="0.5" fill="none"/>
<rect x="399.4" y="100.8" width="5.7" height="8.57" fill="#2a7aba"/>
<rect x="406.96" y="100.8" width="5.7" height="7.62" fill="#2a7aba"/>
<rect x="414.52" y="100.8" width="5.7" height="0.41" fill="#2a7aba"/>
<rect x="422.08" y="89.38" width="5.7" height="11.42" fill="#d9212b"/>
<rect x="429.64" y="96.99" width="5.7" height="3.81" fill="#d9212b"/>
<rect x="437.2" y="96.45" width="5.7" height="4.35" fill="#d9212b"/>
<rect x="444.76" y="100.8" width="5.7" height="4.22" fill="#2a7aba"/>
<rect x="452.32" y="100.8" width="5.7" height="3.26" fill="#2a7aba"/>
<rect x="459.88" y="90.74" width="5.7" height="10.06" fill="#d9212b"/>
<rect x="467.44" y="89.38" width="5.7" height="11.42" fill="#d9212b"/>
<rect x="475" y="76.46" width="5.7" height="24.34" fill="#d9212b"/>
<path d="M398.6 100.8h84" stroke="#5a5a5a" stroke-width="0.75"/>
<text transform="translate(405 135.9) scale(0.86 1)" font-size="7.3" text-anchor="middle">1900s</text>
<text transform="translate(419.95 135.9) scale(0.86 1)" font-size="7.3" text-anchor="middle">20s</text>
<text transform="translate(434.9 135.9) scale(0.86 1)" font-size="7.3" text-anchor="middle">40s</text>
<text transform="translate(449.85 135.9) scale(0.86 1)" font-size="7.3" text-anchor="middle">60s</text>
<text transform="translate(464.8 135.9) scale(0.86 1)" font-size="7.3" text-anchor="middle">80s</text>
<text transform="translate(479.75 135.9) scale(0.86 1)" font-size="7.3" text-anchor="middle">00s</text>
<text x="440.6" y="142.5" font-size="6.7" text-anchor="middle">Decade</text>
<text transform="translate(397.2 75.5) scale(0.86 1)" font-size="7.2" text-anchor="end">2</text>
<text transform="translate(397.2 102.7) scale(0.86 1)" font-size="7.2" text-anchor="end">0</text>
<text transform="translate(397.2 129.9) scale(0.86 1)" font-size="7.2" text-anchor="end">-2</text>
<text transform="translate(386.8 101.5) rotate(-90)" font-size="6.42" text-anchor="middle">Temperature Change (°F)</text>
<rect x="38.7" y="173.9" width="107.1" height="88.9" fill="#777" filter="url(#sh)" opacity="0.7"/>
<rect x="37.8" y="173" width="106.8" height="88.6" fill="#fff" stroke="#dcdcdc" stroke-width="0.8"/>
<text x="49.6" y="183.2" font-size="9.58">Northwest</text>
<rect x="55" y="190.4" width="84.6" height="54.6" fill="#f3f3f3" stroke="#777" stroke-width="0.6"/>
<path d="M55 190.4h1.8M139.6 190.4h-1.8M55 197.22h1M139.6 197.22h-1M55 204.05h1.8M139.6 204.05h-1.8M55 210.88h1M139.6 210.88h-1M55 217.7h1.8M139.6 217.7h-1.8M55 224.53h1M139.6 224.53h-1M55 231.35h1.8M139.6 231.35h-1.8M55 238.18h1M139.6 238.18h-1M55 245h1.8M139.6 245h-1.8M59.47 245v-1.8M59.47 190.4v1.8M67.04 245v-1M67.04 190.4v1M74.62 245v-1.8M74.62 190.4v1.8M82.19 245v-1M82.19 190.4v1M89.77 245v-1.8M89.77 190.4v1.8M97.34 245v-1M97.34 190.4v1M104.91 245v-1.8M104.91 190.4v1.8M112.49 245v-1M112.49 190.4v1M120.06 245v-1.8M120.06 190.4v1.8M127.63 245v-1M127.63 190.4v1M135.21 245v-1.8M135.21 190.4v1.8" stroke="#555" stroke-width="0.5" fill="none"/>
<rect x="56.5" y="217.7" width="5.94" height="2.46" fill="#2a7aba"/>
<rect x="64.07" y="217.7" width="5.94" height="10.1" fill="#2a7aba"/>
<rect x="71.65" y="217.7" width="5.94" height="1.37" fill="#2a7aba"/>
<rect x="79.22" y="206.64" width="5.94" height="11.06" fill="#d9212b"/>
<rect x="86.79" y="217.29" width="5.94" height="0.41" fill="#d9212b"/>
<rect x="94.37" y="216.06" width="5.94" height="1.64" fill="#d9212b"/>
<rect x="101.94" y="210.47" width="5.94" height="7.23" fill="#d9212b"/>
<rect x="109.52" y="215.11" width="5.94" height="2.59" fill="#d9212b"/>
<rect x="117.09" y="209.65" width="5.94" height="8.05" fill="#d9212b"/>
<rect x="124.66" y="200.09" width="5.94" height="17.61" fill="#d9212b"/>
<rect x="132.24" y="199" width="5.94" height="18.7" fill="#d9212b"/>
<path d="M55 217.7h84.6" stroke="#5a5a5a" stroke-width="0.75"/>
<text transform="translate(61.7 252.9) scale(0.86 1)" font-size="7.3" text-anchor="middle">1900s</text>
<text transform="translate(76.65 252.9) scale(0.86 1)" font-size="7.3" text-anchor="middle">20s</text>
<text transform="translate(91.6 252.9) scale(0.86 1)" font-size="7.3" text-anchor="middle">40s</text>
<text transform="translate(106.55 252.9) scale(0.86 1)" font-size="7.3" text-anchor="middle">60s</text>
<text transform="translate(121.5 252.9) scale(0.86 1)" font-size="7.3" text-anchor="middle">80s</text>
<text transform="translate(136.45 252.9) scale(0.86 1)" font-size="7.3" text-anchor="middle">00s</text>
<text x="97.3" y="259.5" font-size="6.7" text-anchor="middle">Decade</text>
<text transform="translate(53.6 192.3) scale(0.86 1)" font-size="7.2" text-anchor="end">2</text>
<text transform="translate(53.6 219.6) scale(0.86 1)" font-size="7.2" text-anchor="end">0</text>
<text transform="translate(53.6 246.9) scale(0.86 1)" font-size="7.2" text-anchor="end">-2</text>
<text transform="translate(43.2 220.3) rotate(-90)" font-size="6.42" text-anchor="middle">Temperature Change (°F)</text>
<rect x="548.3" y="180.9" width="107.5" height="88.9" fill="#777" filter="url(#sh)" opacity="0.7"/>
<rect x="547.4" y="180" width="107.2" height="88.6" fill="#fff" stroke="#dcdcdc" stroke-width="0.8"/>
<text x="560" y="190.4" font-size="9.58">Northeast</text>
<rect x="566" y="197.4" width="84" height="54" fill="#f3f3f3" stroke="#777" stroke-width="0.6"/>
<path d="M566 197.4h1.8M650 197.4h-1.8M566 204.15h1M650 204.15h-1M566 210.9h1.8M650 210.9h-1.8M566 217.65h1M650 217.65h-1M566 224.4h1.8M650 224.4h-1.8M566 231.15h1M650 231.15h-1M566 237.9h1.8M650 237.9h-1.8M566 244.65h1M650 244.65h-1M566 251.4h1.8M650 251.4h-1.8M569.8 251.4v-1.8M569.8 197.4v1.8M577.34 251.4v-1M577.34 197.4v1M584.88 251.4v-1.8M584.88 197.4v1.8M592.42 251.4v-1M592.42 197.4v1M599.96 251.4v-1.8M599.96 197.4v1.8M607.5 251.4v-1M607.5 197.4v1M615.04 251.4v-1.8M615.04 197.4v1.8M622.58 251.4v-1M622.58 197.4v1M630.12 251.4v-1.8M630.12 197.4v1.8M637.66 251.4v-1M637.66 197.4v1M645.2 251.4v-1.8M645.2 197.4v1.8" stroke="#555" stroke-width="0.5" fill="none"/>
<rect x="566.8" y="224.4" width="6" height="10.53" fill="#2a7aba"/>
<rect x="574.34" y="224.4" width="6" height="6.88" fill="#2a7aba"/>
<rect x="581.88" y="224.4" width="6" height="2.16" fill="#2a7aba"/>
<rect x="589.42" y="220.08" width="6" height="4.32" fill="#d9212b"/>
<rect x="596.96" y="217.11" width="6" height="7.29" fill="#d9212b"/>
<rect x="604.5" y="216.03" width="6" height="8.37" fill="#d9212b"/>
<rect x="612.04" y="224.4" width="6" height="5.13" fill="#2a7aba"/>
<rect x="619.58" y="224.4" width="6" height="0.3" fill="#2a7aba"/>
<rect x="627.12" y="215.49" width="6" height="8.91" fill="#d9212b"/>
<rect x="634.66" y="210.5" width="6" height="13.91" fill="#d9212b"/>
<rect x="642.2" y="197.81" width="6" height="26.59" fill="#d9212b"/>
<path d="M566 224.4h84" stroke="#5a5a5a" stroke-width="0.75"/>
<text transform="translate(571.1 259.3) scale(0.86 1)" font-size="7.3" text-anchor="middle">1900s</text>
<text transform="translate(586.05 259.3) scale(0.86 1)" font-size="7.3" text-anchor="middle">20s</text>
<text transform="translate(601 259.3) scale(0.86 1)" font-size="7.3" text-anchor="middle">40s</text>
<text transform="translate(615.95 259.3) scale(0.86 1)" font-size="7.3" text-anchor="middle">60s</text>
<text transform="translate(630.9 259.3) scale(0.86 1)" font-size="7.3" text-anchor="middle">80s</text>
<text transform="translate(645.85 259.3) scale(0.86 1)" font-size="7.3" text-anchor="middle">00s</text>
<text x="608" y="265.9" font-size="6.7" text-anchor="middle">Decade</text>
<text transform="translate(564.6 199.3) scale(0.86 1)" font-size="7.2" text-anchor="end">2</text>
<text transform="translate(564.6 226.3) scale(0.86 1)" font-size="7.2" text-anchor="end">0</text>
<text transform="translate(564.6 253.3) scale(0.86 1)" font-size="7.2" text-anchor="end">-2</text>
<text transform="translate(554.2 226.5) rotate(-90)" font-size="6.42" text-anchor="middle">Temperature Change (°F)</text>
<rect x="27.7" y="300.7" width="107.1" height="88.5" fill="#777" filter="url(#sh)" opacity="0.7"/>
<rect x="26.8" y="299.8" width="106.8" height="88.2" fill="#fff" stroke="#dcdcdc" stroke-width="0.8"/>
<text x="38.4" y="309.6" font-size="9.58">Hawai'i</text>
<rect x="45" y="316.6" width="84" height="54.4" fill="#f3f3f3" stroke="#777" stroke-width="0.6"/>
<path d="M45 316.6h1.8M129 316.6h-1.8M45 323.4h1M129 323.4h-1M45 330.2h1.8M129 330.2h-1.8M45 337h1M129 337h-1M45 343.8h1.8M129 343.8h-1.8M45 350.6h1M129 350.6h-1M45 357.4h1.8M129 357.4h-1.8M45 364.2h1M129 364.2h-1M45 371h1.8M129 371h-1.8M50 371v-1.8M50 316.6v1.8M57.5 371v-1M57.5 316.6v1M65 371v-1.8M65 316.6v1.8M72.5 371v-1M72.5 316.6v1M80 371v-1.8M80 316.6v1.8M87.5 371v-1M87.5 316.6v1M95 371v-1.8M95 316.6v1.8M102.5 371v-1M102.5 316.6v1M110 371v-1.8M110 316.6v1.8M117.5 371v-1M117.5 316.6v1M125 371v-1.8M125 316.6v1.8" stroke="#555" stroke-width="0.5" fill="none"/>
<rect x="47" y="343.8" width="6" height="9.38" fill="#2a7aba"/>
<rect x="54.5" y="343.8" width="6" height="5.03" fill="#2a7aba"/>
<rect x="62" y="339.58" width="6" height="4.22" fill="#d9212b"/>
<rect x="69.5" y="337.14" width="6" height="6.66" fill="#d9212b"/>
<rect x="77" y="341.76" width="6" height="2.04" fill="#d9212b"/>
<rect x="84.5" y="343.39" width="6" height="0.41" fill="#d9212b"/>
<rect x="92" y="333.19" width="6" height="10.61" fill="#d9212b"/>
<rect x="99.5" y="331.15" width="6" height="12.65" fill="#d9212b"/>
<rect x="107" y="330.61" width="6" height="13.19" fill="#d9212b"/>
<rect x="114.5" y="329.66" width="6" height="14.14" fill="#d9212b"/>
<rect x="122" y="329.25" width="6" height="14.55" fill="#d9212b"/>
<path d="M45 343.8h84" stroke="#5a5a5a" stroke-width="0.75"/>
<text transform="translate(51.1 378.9) scale(0.86 1)" font-size="7.3" text-anchor="middle">1900s</text>
<text transform="translate(66.05 378.9) scale(0.86 1)" font-size="7.3" text-anchor="middle">20s</text>
<text transform="translate(81 378.9) scale(0.86 1)" font-size="7.3" text-anchor="middle">40s</text>
<text transform="translate(95.95 378.9) scale(0.86 1)" font-size="7.3" text-anchor="middle">60s</text>
<text transform="translate(110.9 378.9) scale(0.86 1)" font-size="7.3" text-anchor="middle">80s</text>
<text transform="translate(125.85 378.9) scale(0.86 1)" font-size="7.3" text-anchor="middle">00s</text>
<text x="87" y="385.5" font-size="6.7" text-anchor="middle">Decade</text>
<text transform="translate(43.6 318.5) scale(0.86 1)" font-size="7.2" text-anchor="end">2</text>
<text transform="translate(43.6 345.7) scale(0.86 1)" font-size="7.2" text-anchor="end">0</text>
<text transform="translate(43.6 372.9) scale(0.86 1)" font-size="7.2" text-anchor="end">-2</text>
<text transform="translate(33.2 346.8) rotate(-90)" font-size="6.42" text-anchor="middle">Temperature Change (°F)</text>
<rect x="179.3" y="325.9" width="107.5" height="88.5" fill="#777" filter="url(#sh)" opacity="0.7"/>
<rect x="178.4" y="325" width="107.2" height="88.2" fill="#fff" stroke="#dcdcdc" stroke-width="0.8"/>
<text x="189.6" y="335.6" font-size="9.58">Southwest</text>
<rect x="195.6" y="341.6" width="85" height="54.8" fill="#f3f3f3" stroke="#777" stroke-width="0.6"/>
<path d="M195.6 341.6h1.8M280.6 341.6h-1.8M195.6 348.45h1M280.6 348.45h-1M195.6 355.3h1.8M280.6 355.3h-1.8M195.6 362.15h1M280.6 362.15h-1M195.6 369h1.8M280.6 369h-1.8M195.6 375.85h1M280.6 375.85h-1M195.6 382.7h1.8M280.6 382.7h-1.8M195.6 389.55h1M280.6 389.55h-1M195.6 396.4h1.8M280.6 396.4h-1.8M200.09 396.4v-1.8M200.09 341.6v1.8M207.69 396.4v-1M207.69 341.6v1M215.3 396.4v-1.8M215.3 341.6v1.8M222.91 396.4v-1M222.91 341.6v1M230.52 396.4v-1.8M230.52 341.6v1.8M238.13 396.4v-1M238.13 341.6v1M245.74 396.4v-1.8M245.74 341.6v1.8M253.35 396.4v-1M253.35 341.6v1M260.96 396.4v-1.8M260.96 341.6v1.8M268.57 396.4v-1M268.57 341.6v1M276.18 396.4v-1.8M276.18 341.6v1.8" stroke="#555" stroke-width="0.5" fill="none"/>
<rect x="197.1" y="369" width="5.97" height="1.37" fill="#2a7aba"/>
<rect x="204.71" y="369" width="5.97" height="10.82" fill="#2a7aba"/>
<rect x="212.32" y="369" width="5.97" height="0.41" fill="#2a7aba"/>
<rect x="219.93" y="359.68" width="5.97" height="9.32" fill="#d9212b"/>
<rect x="227.54" y="369" width="5.97" height="0.96" fill="#2a7aba"/>
<rect x="235.15" y="363.38" width="5.97" height="5.62" fill="#d9212b"/>
<rect x="242.76" y="367.36" width="5.97" height="1.64" fill="#d9212b"/>
<rect x="250.37" y="367.77" width="5.97" height="1.23" fill="#d9212b"/>
<rect x="257.98" y="359.14" width="5.97" height="9.86" fill="#d9212b"/>
<rect x="265.59" y="351.33" width="5.97" height="17.67" fill="#d9212b"/>
<rect x="273.2" y="344.07" width="5.97" height="24.93" fill="#d9212b"/>
<path d="M195.6 369h85" stroke="#5a5a5a" stroke-width="0.75"/>
<text transform="translate(202.5 404.3) scale(0.86 1)" font-size="7.3" text-anchor="middle">1900s</text>
<text transform="translate(217.45 404.3) scale(0.86 1)" font-size="7.3" text-anchor="middle">20s</text>
<text transform="translate(232.4 404.3) scale(0.86 1)" font-size="7.3" text-anchor="middle">40s</text>
<text transform="translate(247.35 404.3) scale(0.86 1)" font-size="7.3" text-anchor="middle">60s</text>
<text transform="translate(262.3 404.3) scale(0.86 1)" font-size="7.3" text-anchor="middle">80s</text>
<text transform="translate(277.25 404.3) scale(0.86 1)" font-size="7.3" text-anchor="middle">00s</text>
<text x="238.1" y="410.9" font-size="6.7" text-anchor="middle">Decade</text>
<text transform="translate(194.2 343.5) scale(0.86 1)" font-size="7.2" text-anchor="end">2</text>
<text transform="translate(194.2 370.9) scale(0.86 1)" font-size="7.2" text-anchor="end">0</text>
<text transform="translate(194.2 398.3) scale(0.86 1)" font-size="7.2" text-anchor="end">-2</text>
<text transform="translate(183.8 370.5) rotate(-90)" font-size="6.42" text-anchor="middle">Temperature Change (°F)</text>
<rect x="315.3" y="356.3" width="107.9" height="88.1" fill="#777" filter="url(#sh)" opacity="0.7"/>
<rect x="314.4" y="355.4" width="107.6" height="87.8" fill="#fff" stroke="#dcdcdc" stroke-width="0.8"/>
<text x="324.4" y="367" font-size="9.58">Great Plains South</text>
<rect x="333.4" y="371.6" width="84" height="54.4" fill="#f3f3f3" stroke="#777" stroke-width="0.6"/>
<path d="M333.4 371.6h1.8M417.4 371.6h-1.8M333.4 378.4h1M417.4 378.4h-1M333.4 385.2h1.8M417.4 385.2h-1.8M333.4 392h1M417.4 392h-1M333.4 398.8h1.8M417.4 398.8h-1.8M333.4 405.6h1M417.4 405.6h-1M333.4 412.4h1.8M417.4 412.4h-1.8M333.4 419.2h1M417.4 419.2h-1M333.4 426h1.8M417.4 426h-1.8M337.85 426v-1.8M337.85 371.6v1.8M345.37 426v-1M345.37 371.6v1M352.89 426v-1.8M352.89 371.6v1.8M360.41 426v-1M360.41 371.6v1M367.93 426v-1.8M367.93 371.6v1.8M375.45 426v-1M375.45 371.6v1M382.97 426v-1.8M382.97 371.6v1.8M390.49 426v-1M390.49 371.6v1M398.01 426v-1.8M398.01 371.6v1.8M405.53 426v-1M405.53 371.6v1M413.05 426v-1.8M413.05 371.6v1.8" stroke="#555" stroke-width="0.5" fill="none"/>
<rect x="334.9" y="398.8" width="5.9" height="3.4" fill="#2a7aba"/>
<rect x="342.42" y="398.8" width="5.9" height="8.84" fill="#2a7aba"/>
<rect x="349.94" y="397.17" width="5.9" height="1.63" fill="#d9212b"/>
<rect x="357.46" y="389.96" width="5.9" height="8.84" fill="#d9212b"/>
<rect x="364.98" y="398.8" width="5.9" height="0.82" fill="#2a7aba"/>
<rect x="372.5" y="395.54" width="5.9" height="3.26" fill="#d9212b"/>
<rect x="380.02" y="398.8" width="5.9" height="4.35" fill="#2a7aba"/>
<rect x="387.54" y="398.8" width="5.9" height="6.8" fill="#2a7aba"/>
<rect x="395.06" y="398.8" width="5.9" height="1.36" fill="#2a7aba"/>
<rect x="402.58" y="391.59" width="5.9" height="7.21" fill="#d9212b"/>
<rect x="410.1" y="383.02" width="5.9" height="15.78" fill="#d9212b"/>
<path d="M333.4 398.8h84" stroke="#5a5a5a" stroke-width="0.75"/>
<text transform="translate(339.5 433.9) scale(0.86 1)" font-size="7.3" text-anchor="middle">1900s</text>
<text transform="translate(354.45 433.9) scale(0.86 1)" font-size="7.3" text-anchor="middle">20s</text>
<text transform="translate(369.4 433.9) scale(0.86 1)" font-size="7.3" text-anchor="middle">40s</text>
<text transform="translate(384.35 433.9) scale(0.86 1)" font-size="7.3" text-anchor="middle">60s</text>
<text transform="translate(399.3 433.9) scale(0.86 1)" font-size="7.3" text-anchor="middle">80s</text>
<text transform="translate(414.25 433.9) scale(0.86 1)" font-size="7.3" text-anchor="middle">00s</text>
<text x="375.4" y="440.5" font-size="6.7" text-anchor="middle">Decade</text>
<text transform="translate(332 373.5) scale(0.86 1)" font-size="7.2" text-anchor="end">2</text>
<text transform="translate(332 400.7) scale(0.86 1)" font-size="7.2" text-anchor="end">0</text>
<text transform="translate(332 427.9) scale(0.86 1)" font-size="7.2" text-anchor="end">-2</text>
<text transform="translate(321.6 401.8) rotate(-90)" font-size="6.42" text-anchor="middle">Temperature Change (°F)</text>
<rect x="473.9" y="300.3" width="106.9" height="88.1" fill="#777" filter="url(#sh)" opacity="0.7"/>
<rect x="473" y="299.4" width="106.6" height="87.8" fill="#fff" stroke="#dcdcdc" stroke-width="0.8"/>
<text x="486" y="311" font-size="9.58">Southeast</text>
<rect x="491.6" y="316.4" width="83.4" height="54" fill="#f3f3f3" stroke="#777" stroke-width="0.6"/>
<path d="M491.6 316.4h1.8M575 316.4h-1.8M491.6 323.15h1M575 323.15h-1M491.6 329.9h1.8M575 329.9h-1.8M491.6 336.65h1M575 336.65h-1M491.6 343.4h1.8M575 343.4h-1.8M491.6 350.15h1M575 350.15h-1M491.6 356.9h1.8M575 356.9h-1.8M491.6 363.65h1M575 363.65h-1M491.6 370.4h1.8M575 370.4h-1.8M495.95 370.4v-1.8M495.95 316.4v1.8M503.31 370.4v-1M503.31 316.4v1M510.67 370.4v-1.8M510.67 316.4v1.8M518.03 370.4v-1M518.03 316.4v1M525.39 370.4v-1.8M525.39 316.4v1.8M532.75 370.4v-1M532.75 316.4v1M540.11 370.4v-1.8M540.11 316.4v1.8M547.47 370.4v-1M547.47 316.4v1M554.83 370.4v-1.8M554.83 316.4v1.8M562.19 370.4v-1M562.19 316.4v1M569.55 370.4v-1.8M569.55 316.4v1.8" stroke="#555" stroke-width="0.5" fill="none"/>
<rect x="493" y="343.4" width="5.9" height="7.29" fill="#2a7aba"/>
<rect x="500.36" y="343.4" width="5.9" height="4.32" fill="#2a7aba"/>
<rect x="507.72" y="339.48" width="5.9" height="3.91" fill="#d9212b"/>
<rect x="515.08" y="338.81" width="5.9" height="4.59" fill="#d9212b"/>
<rect x="522.44" y="341.38" width="5.9" height="2.02" fill="#d9212b"/>
<rect x="529.8" y="343.4" width="5.9" height="0.68" fill="#2a7aba"/>
<rect x="537.16" y="343.4" width="5.9" height="13.91" fill="#2a7aba"/>
<rect x="544.52" y="343.4" width="5.9" height="8.37" fill="#2a7aba"/>
<rect x="551.88" y="343.4" width="5.9" height="2.43" fill="#2a7aba"/>
<rect x="559.24" y="340.83" width="5.9" height="2.56" fill="#d9212b"/>
<rect x="566.6" y="334.49" width="5.9" height="8.91" fill="#d9212b"/>
<path d="M491.6 343.4h83.4" stroke="#5a5a5a" stroke-width="0.75"/>
<text transform="translate(497.1 378.3) scale(0.86 1)" font-size="7.3" text-anchor="middle">1900s</text>
<text transform="translate(512.05 378.3) scale(0.86 1)" font-size="7.3" text-anchor="middle">20s</text>
<text transform="translate(527 378.3) scale(0.86 1)" font-size="7.3" text-anchor="middle">40s</text>
<text transform="translate(541.95 378.3) scale(0.86 1)" font-size="7.3" text-anchor="middle">60s</text>
<text transform="translate(556.9 378.3) scale(0.86 1)" font-size="7.3" text-anchor="middle">80s</text>
<text transform="translate(571.85 378.3) scale(0.86 1)" font-size="7.3" text-anchor="middle">00s</text>
<text x="533.3" y="384.9" font-size="6.7" text-anchor="middle">Decade</text>
<rect x="524.1" y="30.1" width="127.6" height="103.9" fill="#888" filter="url(#sh)" opacity="0.8"/>
<rect x="522.65" y="28.65" width="126.1" height="102.4" fill="#fff" stroke="#000" stroke-width="1.5"/>
<text x="534.9" y="41.2" font-size="12.75">U.S. Average</text>
<rect x="548.1" y="50.4" width="95.5" height="62.8" fill="#f3f3f3" stroke="#777" stroke-width="0.6"/>
<path d="M548.1 50.4h2.05M643.6 50.4h-2.05M548.1 58.25h1.14M643.6 58.25h-1.14M548.1 66.1h2.05M643.6 66.1h-2.05M548.1 73.95h1.14M643.6 73.95h-1.14M548.1 81.8h2.05M643.6 81.8h-2.05M548.1 89.65h1.14M643.6 89.65h-1.14M548.1 97.5h2.05M643.6 97.5h-2.05M548.1 105.35h1.14M643.6 105.35h-1.14M548.1 113.2h2.05M643.6 113.2h-2.05M552.6 113.2v-2.05M552.6 50.4v2.05M561.17 113.2v-1.14M561.17 50.4v1.14M569.74 113.2v-2.05M569.74 50.4v2.05M578.31 113.2v-1.14M578.31 50.4v1.14M586.88 113.2v-2.05M586.88 50.4v2.05M595.45 113.2v-1.14M595.45 50.4v1.14M604.02 113.2v-2.05M604.02 50.4v2.05M612.59 113.2v-1.14M612.59 50.4v1.14M621.16 113.2v-2.05M621.16 50.4v2.05M629.73 113.2v-1.14M629.73 50.4v1.14M638.3 113.2v-2.05M638.3 50.4v2.05" stroke="#555" stroke-width="0.5" fill="none"/>
<rect x="549.2" y="81.8" width="6.8" height="5.49" fill="#2a7aba"/>
<rect x="557.77" y="81.8" width="6.8" height="10.52" fill="#2a7aba"/>
<rect x="566.34" y="81.17" width="6.8" height="0.63" fill="#d9212b"/>
<rect x="574.91" y="70.97" width="6.8" height="10.83" fill="#d9212b"/>
<rect x="583.48" y="80.23" width="6.8" height="1.57" fill="#d9212b"/>
<rect x="592.05" y="78.03" width="6.8" height="3.77" fill="#d9212b"/>
<rect x="600.62" y="81.8" width="6.8" height="3.3" fill="#2a7aba"/>
<rect x="609.19" y="81.8" width="6.8" height="2.67" fill="#2a7aba"/>
<rect x="617.76" y="74.11" width="6.8" height="7.69" fill="#d9212b"/>
<rect x="626.33" y="68.06" width="6.8" height="13.74" fill="#d9212b"/>
<rect x="634.9" y="58.41" width="6.8" height="23.39" fill="#d9212b"/>
<path d="M548.1 81.8h95.5" stroke="#5a5a5a" stroke-width="0.75"/>
<text transform="translate(551.5 122.18) scale(0.86 1)" font-size="8.2" text-anchor="middle">1900s</text>
<text transform="translate(568.9 122.18) scale(0.86 1)" font-size="8.2" text-anchor="middle">20s</text>
<text transform="translate(586.3 122.18) scale(0.86 1)" font-size="8.2" text-anchor="middle">40s</text>
<text transform="translate(603.7 122.18) scale(0.86 1)" font-size="8.2" text-anchor="middle">60s</text>
<text transform="translate(621.1 122.18) scale(0.86 1)" font-size="8.2" text-anchor="middle">80s</text>
<text transform="translate(638.5 122.18) scale(0.86 1)" font-size="8.2" text-anchor="middle">00s</text>
<text x="595.85" y="129.7" font-size="7.4" text-anchor="middle">Decade</text>
<text transform="translate(546.51 52.56) scale(0.86 1)" font-size="8.1" text-anchor="end">2</text>
<text transform="translate(546.51 83.96) scale(0.86 1)" font-size="8.1" text-anchor="end">0</text>
<text transform="translate(546.51 115.36) scale(0.86 1)" font-size="8.1" text-anchor="end">-2</text>
<text transform="translate(533.2 84) rotate(-90)" font-size="7.15" text-anchor="middle">Temperature Change (°F)</text>
<text x="339" y="465.5" font-size="11.3" text-anchor="middle">Temperature Change (°F)</text>
<rect x="152.8" y="473.9" width="21.6" height="10.4" fill="#2166ac" stroke="#111" stroke-width="0.8"/>
<text x="162" y="495.6" font-size="10" text-anchor="middle" textLength="16.7" lengthAdjust="spacingAndGlyphs">&lt;1.5</text>
<rect x="199.6" y="473.9" width="21.6" height="10.4" fill="#4393c3" stroke="#111" stroke-width="0.8"/>
<text x="207.8" y="495.6" font-size="10" text-anchor="middle" textLength="38.5" lengthAdjust="spacingAndGlyphs">-1.5 to -1.0</text>
<rect x="250.3" y="473.9" width="21.6" height="10.4" fill="#92c5de" stroke="#111" stroke-width="0.8"/>
<text x="260.2" y="495.6" font-size="10" text-anchor="middle" textLength="38.5" lengthAdjust="spacingAndGlyphs">-1.0 to -0.5</text>
<rect x="301.5" y="473.9" width="21.6" height="10.4" fill="#d1e5f0" stroke="#111" stroke-width="0.8"/>
<text x="311.7" y="495.6" font-size="10" text-anchor="middle" textLength="35.5" lengthAdjust="spacingAndGlyphs">-0.5 to 0.0</text>
<rect x="350.6" y="473.9" width="21.6" height="10.4" fill="#fddbc7" stroke="#111" stroke-width="0.8"/>
<text x="360.6" y="495.6" font-size="10" text-anchor="middle" textLength="34" lengthAdjust="spacingAndGlyphs">0.0 to 0.5</text>
<rect x="398.5" y="473.9" width="21.6" height="10.4" fill="#f4a582" stroke="#111" stroke-width="0.8"/>
<text x="408.2" y="495.6" font-size="10" text-anchor="middle" textLength="33.3" lengthAdjust="spacingAndGlyphs">0.5 to 1.0</text>
<rect x="445.5" y="473.9" width="21.6" height="10.4" fill="#d9614f" stroke="#111" stroke-width="0.8"/>
<text x="456" y="495.6" font-size="10" text-anchor="middle" textLength="32.7" lengthAdjust="spacingAndGlyphs">1.0 to 1.5</text>
<rect x="486.3" y="473.9" width="21.6" height="10.4" fill="#b31e2c" stroke="#111" stroke-width="0.8"/>
<text x="497" y="495.6" font-size="10" text-anchor="middle" textLength="16.4" lengthAdjust="spacingAndGlyphs">&gt;1.5</text>
</svg></body></html>
